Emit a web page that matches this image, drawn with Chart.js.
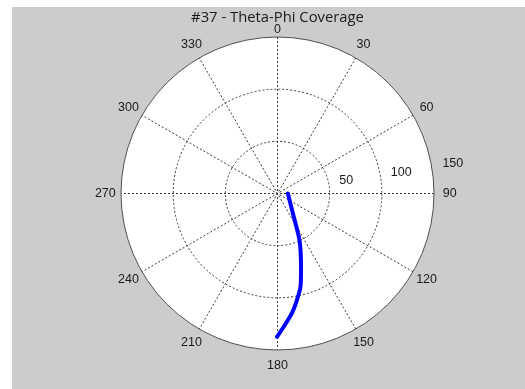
<!DOCTYPE html>
<html>
<head>
<meta charset="utf-8">
<script src="https://cdn.jsdelivr.net/npm/chart.js@4"></script>
<style>
  html, body { margin: 0; padding: 0; background: #ffffff; }
  #frame { position: absolute; left: 12px; top: 7px; width: 513px; height: 382px; background: #cccccc; }
</style>
</head>
<body>
<div id="frame"><canvas id="c"></canvas></div>
<script>
// Coverage track: azimuth (deg, clockwise from top) and radial value
const phiDeg   = [90, 138.7, 150.9, 154.7, 158.7, 162.9, 166.2, 170.4, 173.1, 175.3, 177.4, 180.2];
const thetaVal = [10,  21.1,  37.8,  49.3,  61.2,  76.7,  92.3, 106.4, 115.4, 121.7, 128.1, 137.5];

// Polar grid ticks
const angleTicks = [0, 30, 60, 90, 120, 150, 180, 210, 240, 270, 300, 330];
const ringTicks  = [50, 100, 150];
const rMax = 150;

const rad = d => d * Math.PI / 180;
// polar (compass angle, radius) -> cartesian data coordinates
const toXY = (deg, r) => ({ x: r * Math.sin(rad(deg)), y: r * Math.cos(rad(deg)) });

const trackPoints = phiDeg.map((d, i) => toXY(d, thetaVal[i]));

const polarGrid = {
  id: 'polarGrid',
  beforeDatasetsDraw(chart) {
    const { ctx, scales: { x, y } } = chart;
    const px = (deg, r) => { const p = toXY(deg, r); return [x.getPixelForValue(p.x), y.getPixelForValue(p.y)]; };
    const cx = x.getPixelForValue(0), cy = y.getPixelForValue(0);
    const R = x.getPixelForValue(rMax) - cx;
    const ringPx = v => x.getPixelForValue(v) - cx;

    ctx.save();
    // white plotting disk
    ctx.beginPath();
    ctx.arc(cx, cy, R, 0, Math.PI * 2);
    ctx.fillStyle = '#ffffff';
    ctx.fill();

    // dashed spokes through the centre
    ctx.lineWidth = 1;
    ctx.strokeStyle = '#3a3a3a';
    ctx.setLineDash([2, 2]);
    angleTicks.filter(a => a < 180).forEach(a => {
      const [x1, y1] = px(a, rMax);
      const [x2, y2] = px(a + 180, rMax);
      ctx.beginPath();
      ctx.moveTo(x1, y1);
      ctx.lineTo(x2, y2);
      ctx.stroke();
    });

    // dashed inner rings
    ringTicks.filter(v => v < rMax).forEach(v => {
      ctx.beginPath();
      ctx.arc(cx, cy, ringPx(v), 0, Math.PI * 2);
      ctx.stroke();
    });

    // solid outer ring
    ctx.setLineDash([]);
    ctx.strokeStyle = '#505050';
    ctx.beginPath();
    ctx.arc(cx, cy, R, 0, Math.PI * 2);
    ctx.stroke();

    // angle labels
    ctx.fillStyle = '#1a1a1a';
    ctx.font = '12.5px "Liberation Sans", Arial, sans-serif';
    ctx.textAlign = 'center';
    ctx.textBaseline = 'middle';
    angleTicks.forEach(a => {
      const f = a === 0 ? 1.05 : 1.1;
      const [lx, ly] = px(a, rMax * f);
      ctx.fillText(String(a), lx, ly);
    });

    // ring labels
    ctx.textAlign = 'left';
    ctx.textBaseline = 'alphabetic';
    ringTicks.forEach(v => {
      const [lx, ly] = px(81, v + 10);
      ctx.fillText(String(v), lx, ly);
    });
    ctx.restore();
  }
};

new Chart(document.getElementById('c'), {
  type: 'scatter',
  data: {
    datasets: [{
      data: trackPoints,
      showLine: true,
      borderColor: '#0000ff',
      borderWidth: 4,
      borderCapStyle: 'round',
      borderJoinStyle: 'round',
      pointRadius: 0,
      tension: 0.2
    }]
  },
  options: {
    responsive: true,
    maintainAspectRatio: false,
    animation: false,
    layout: { padding: { left: 109, right: 91, top: 0, bottom: 39 } },
    scales: {
      x: { type: 'linear', min: -rMax, max: rMax, display: false },
      y: { type: 'linear', min: -rMax, max: rMax, display: false }
    },
    plugins: {
      legend: { display: false },
      tooltip: { enabled: false },
      title: {
        display: true,
        text: '#37 - Theta-Phi Coverage',
        color: '#1a1a1a',
        font: { family: '"Open Sans", "Noto Sans", sans-serif', size: 14.8, weight: 'normal', lineHeight: 1.2 },
        padding: { top: 2, bottom: 10.24 }
      }
    }
  },
  plugins: [polarGrid]
});
</script>
</body>
</html>
